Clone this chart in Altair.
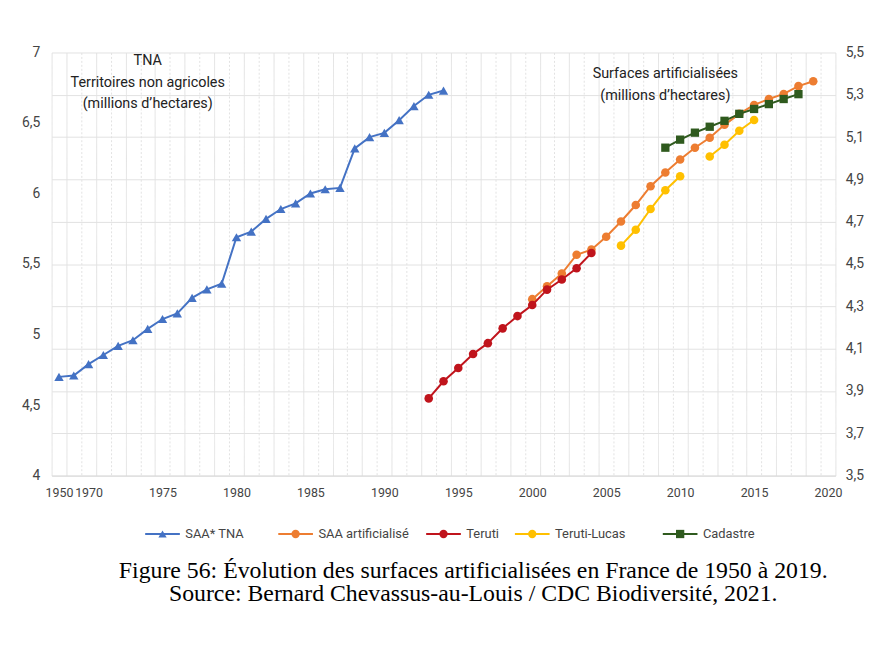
import altair as alt
import pandas as pd

# ---------------- data ----------------
x_categories = ["1950", "1960"] + [str(y) for y in range(1970, 2021)]

series_names = ["SAA* TNA", "SAA artificialisé", "Teruti", "Teruti-Lucas", "Cadastre"]
series_colors = ["#4472C4", "#ED7D31", "#C0141C", "#FFC000", "#2F5A1E"]
series_shapes = ["triangle-up", "circle", "circle", "circle", "square"]

tna_years = ["1950", "1960", "1970", "1971", "1972", "1973", "1974", "1975", "1976",
             "1977", "1978", "1979", "1980", "1981", "1982", "1983", "1984", "1985",
             "1986", "1987", "1988", "1989", "1990", "1991", "1992", "1993", "1994"]
tna_values = [4.70, 4.71, 4.79, 4.855, 4.92, 4.96, 5.04, 5.11, 5.15,
              5.26, 5.32, 5.36, 5.69, 5.73, 5.82, 5.89, 5.93, 6.00,
              6.03, 6.04, 6.32, 6.40, 6.43, 6.52, 6.62, 6.70, 6.73]

saa_years = ["2000", "2001", "2002", "2003", "2004", "2005", "2006", "2007", "2008", "2009",
             "2010", "2011", "2012", "2013", "2014", "2015", "2016", "2017", "2018", "2019"]
saa_values = [4.334, 4.395, 4.455, 4.544, 4.568, 4.629, 4.701, 4.779, 4.868, 4.933,
              4.994, 5.050, 5.097, 5.158, 5.210, 5.252, 5.280, 5.304, 5.341, 5.364]

teruti_years = ["1993", "1994", "1995", "1996", "1997", "1998", "1999", "2000",
                "2001", "2002", "2003", "2004"]
teruti_values = [3.865, 3.946, 4.009, 4.075, 4.126, 4.196, 4.254, 4.306,
                 4.379, 4.427, 4.480, 4.552]

lucas_years = ["2006", "2007", "2008", "2009", "2010", "2012", "2013", "2014", "2015"]
lucas_values = [4.587, 4.662, 4.760, 4.849, 4.915, 5.008, 5.064, 5.130, 5.181]
lucas_segments = ["a", "a", "a", "a", "a", "b", "b", "b", "b"]

cad_years = ["2009", "2010", "2011", "2012", "2013", "2014", "2015", "2016", "2017", "2018"]
cad_values = [5.050, 5.088, 5.121, 5.149, 5.177, 5.210, 5.233, 5.256, 5.280, 5.303]

x_label_years = ["1950", "1970", "1975", "1980", "1985", "1990", "1995",
                 "2000", "2005", "2010", "2015", "2020"]
left_ticks = [4, 4.5, 5, 5.5, 6, 6.5, 7]
right_ticks = [3.5, 3.7, 3.9, 4.1, 4.3, 4.5, 4.7, 4.9, 5.1, 5.3, 5.5]

ann_left = "TNA\nTerritoires non agricoles\n(millions d’hectares)"
ann_right = "Surfaces artificialisées\n(millions d’hectares)"

caption = ["Figure 56: Évolution des surfaces artificialisées en France de 1950 à 2019.",
           "Source: Bernard Chevassus-au-Louis / CDC Biodiversité, 2021."]

# legend row anchors (category slot of each key, and the row level on the right scale)
legend_slots = ["1975", "1984", "1994", "2000", "2010"]
legend_level = 3.224

FONT = "Roboto, Liberation Sans, sans-serif"

# ---------------- tables ----------------
tna_df = pd.DataFrame({"year": tna_years, "value": tna_values, "series": series_names[0], "seg": "a"})
saa_df = pd.DataFrame({"year": saa_years, "value": saa_values, "series": series_names[1], "seg": "a"})
ter_df = pd.DataFrame({"year": teruti_years, "value": teruti_values, "series": series_names[2], "seg": "a"})
luc_df = pd.DataFrame({"year": lucas_years, "value": lucas_values, "series": series_names[3], "seg": lucas_segments})
cad_df = pd.DataFrame({"year": cad_years, "value": cad_values, "series": series_names[4], "seg": "a"})
legend_df = pd.DataFrame({"year": legend_slots, "value": legend_level, "series": series_names})

label_test = "indexof(" + str(x_label_years).replace("'", '"') + ", datum.value) >= 0"

x_enc = alt.X(
    "year:O",
    scale=alt.Scale(type="band", domain=x_categories, paddingInner=0, paddingOuter=0),
    axis=alt.Axis(
        title=None,
        labelAngle=0,
        labelExpr=label_test + " ? datum.value : ''",
        labelOverlap=False,
        labelFont=FONT,
        labelFontSize=12.5,
        labelColor="#444444",
        labelPadding=11,
        ticks=False,
        domain=True,
        domainColor="#d9d9d9",
        tickBand="extent",
        grid=True,
        gridColor="#e2e2e2",
        gridWidth=1,
        gridDash={"condition": {"test": "datum.value == '1960' || toNumber(datum.value) % 2 == 1",
                                "value": [2, 2]},
                  "value": [1, 0]},
    ),
)

color_scale = alt.Scale(domain=series_names, range=series_colors)
shape_scale = alt.Scale(domain=series_names, range=series_shapes)

left_y = alt.Y(
    "value:Q",
    scale=alt.Scale(domain=[4, 7], nice=False, zero=False),
    axis=alt.Axis(title=None, values=left_ticks, grid=False, ticks=False, domain=False,
                  labelExpr="replace(toString(datum.value), '.', ',')",
                  labelFont=FONT, labelFontSize=14, labelColor="#444444", labelPadding=12),
)
right_y = alt.Y(
    "value:Q",
    scale=alt.Scale(domain=[3.5, 5.5], nice=False, zero=False),
    axis=alt.Axis(title=None, orient="right", values=right_ticks, grid=True, gridColor="#e2e2e2",
                  ticks=False, domain=False,
                  labelExpr="replace(format(datum.value, '.1f'), '.', ',')",
                  labelFont=FONT, labelFontSize=14, labelColor="#444444", labelPadding=10),
)


def series_layers(df, y_enc, shape, size=75):
    base = alt.Chart(df).encode(
        x=x_enc, y=y_enc,
        color=alt.Color("series:N", scale=color_scale, legend=None),
        detail="seg:N",
    )
    line = base.mark_line(strokeWidth=2)
    pts = base.mark_point(filled=True, opacity=1, size=size, shape=shape)
    return [line, pts]


left_text = alt.Chart(pd.DataFrame({"year": ["1974"], "value": [6.99], "t": [ann_left]})).mark_text(
    lineBreak="\n", baseline="top", align="center", font=FONT, fontSize=14.5, lineHeight=22, color="#222222"
).encode(x=x_enc, y=left_y, text="t:N")

right_text = alt.Chart(pd.DataFrame({"year": ["2009"], "value": [5.43], "t": [ann_right]})).mark_text(
    lineBreak="\n", baseline="top", align="center", font=FONT, fontSize=14.5, lineHeight=22, color="#222222"
).encode(x=x_enc, y=right_y, text="t:N")

left = alt.layer(*series_layers(tna_df, left_y, "triangle-up", 90), left_text)

# legend keys drawn as marks below the plot
leg_base = alt.Chart(legend_df).encode(
    x=x_enc, y=right_y,
    color=alt.Color("series:N", scale=color_scale, legend=None),
)
leg_stub = leg_base.mark_point(shape="stroke", size=1225, strokeWidth=2.2, filled=False, opacity=1)
leg_marker = leg_base.mark_point(filled=True, opacity=1, size=70).encode(
    shape=alt.Shape("series:N", scale=shape_scale, legend=None)
)
leg_label = alt.Chart(legend_df).mark_text(
    align="left", baseline="middle", dx=23, font=FONT, fontSize=13, color="#444444"
).encode(x=x_enc, y=right_y, text="series:N")

right = alt.layer(
    *series_layers(saa_df, right_y, "circle"),
    *series_layers(luc_df, right_y, "circle"),
    *series_layers(ter_df, right_y, "circle"),
    *series_layers(cad_df, right_y, "square", 70),
    right_text,
    leg_stub, leg_marker, leg_label,
)

chart = alt.layer(left, right).resolve_scale(y="independent").properties(
    width=791,
    height=427,
    autosize=alt.AutoSizeParams(type="none"),
    padding={"left": 44, "top": 42, "right": 46, "bottom": 161},
    title=alt.TitleParams(
        text=caption, orient="bottom", anchor="middle",
        font="Liberation Serif, Times New Roman, serif", fontSize=24, fontWeight="normal",
        color="#000000", lineHeight=24, offset=18, dx=30,
    ),
).configure(background="white").configure_view(stroke=None)

chart.save("out.html", embed_options={"renderer": "svg", "actions": False})
